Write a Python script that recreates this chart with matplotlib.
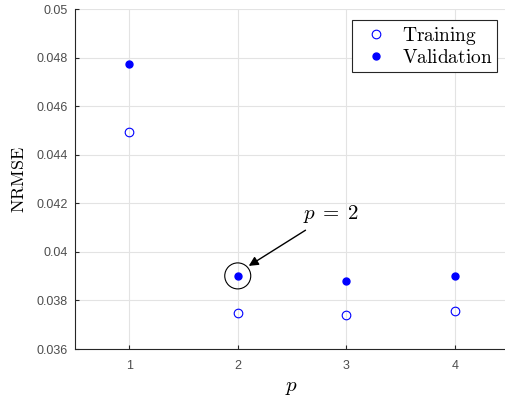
import numpy as np
import matplotlib
matplotlib.use("Agg")
import matplotlib.pyplot as plt
from matplotlib.patches import Ellipse

plt.rcParams['mathtext.fontset'] = 'cm'
plt.rcParams['font.family'] = ['Liberation Sans', 'DejaVu Sans']

p = [1, 2, 3, 4]
training = [0.04494, 0.03749, 0.03738, 0.03758]
validation = [0.04773, 0.03901, 0.03881, 0.03901]

fig = plt.figure(figsize=(5.05, 3.98), dpi=100)
# axes right edge falls just outside the picture, like the reference
ax = fig.add_axes([75 / 505, 1 - 349 / 398, 434 / 505, 340 / 398])

ax.plot(p, training, 'o', ls='none', mfc='none', mec='blue', ms=6.2, mew=0.8,
        label=r'$\mathrm{Training}$')
ax.plot(p, validation, 'o', ls='none', mfc='blue', mec='blue', ms=5,
        label=r'$\mathrm{Validation}$')

ax.set_xlim(0.5, 4.5)
ax.set_ylim(0.036, 0.05)
ax.set_xticks(p)
ax.set_yticks(np.arange(0.036, 0.0501, 0.002))
ax.set_yticklabels(['0.036', '0.038', '0.04', '0.042', '0.044', '0.046', '0.048', '0.05'])
ax.grid(True, color='#e3e3e3', lw=0.8)
ax.set_axisbelow(True)
for s in ['top', 'right']:
    ax.spines[s].set_visible(False)
for s in ['left', 'bottom']:
    ax.spines[s].set_color('#262626')
    ax.spines[s].set_linewidth(0.8)
ax.tick_params(direction='in', length=3, colors='#262626', labelsize=9)
ax.tick_params(axis='y', pad=5)
ax.tick_params(axis='x', pad=8)
for lab in ax.get_xticklabels() + ax.get_yticklabels():
    lab.set_color('#4d4d4d')

ax.set_xlabel(r'$p$', fontsize=15, labelpad=4)
ax.set_ylabel(r'$\mathrm{NRMSE}$', fontsize=13, labelpad=6)

# circle around the chosen model, sized in pixels
px_x = 434 / 4.0
px_y = 340 / 0.014
r = 13
ax.add_patch(Ellipse((p[1], validation[1]), 2 * r / px_x, 2 * r / px_y,
                     fill=False, ec='black', lw=0.8))
ax.annotate(r'$p\;=\;2$', xy=(p[1] + 11 / px_x, validation[1] + 10 / px_y),
            xytext=(p[1] + 0.6, 0.04155), fontsize=15, ha='left', va='center',
            arrowprops=dict(arrowstyle='-|>', color='black', lw=1.0,
                            mutation_scale=14, shrinkA=3, shrinkB=0))

leg = ax.legend(loc='upper right', bbox_to_anchor=(497 / 505, 1 - 20 / 398),
                bbox_transform=fig.transFigure, fontsize=14, fancybox=False,
                framealpha=1, edgecolor='#262626', borderpad=0.25,
                handletextpad=0.3, labelspacing=0.1, borderaxespad=0)
leg.get_frame().set_linewidth(0.8)

fig.savefig('out.png', dpi=100)
